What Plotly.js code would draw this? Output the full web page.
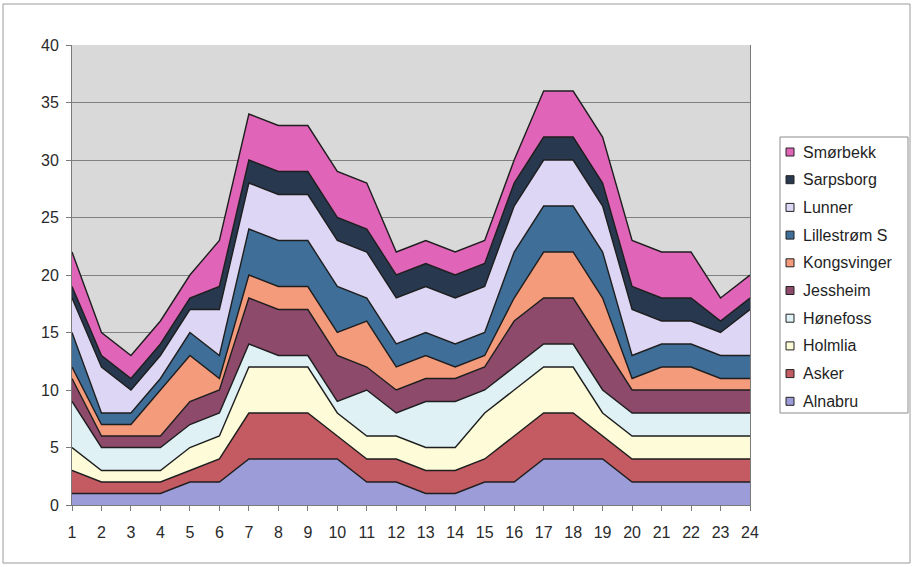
<!DOCTYPE html>
<html>
<head>
<meta charset="utf-8">
<script src="https://cdn.plot.ly/plotly-3.0.1.min.js"></script>
<style>
  html, body { margin: 0; padding: 0; background: #ffffff; }
  #chart { width: 913px; height: 567px; }
</style>
</head>
<body>
<div id="chart"></div>
<script>
// Hour of day
const hours = [1,2,3,4,5,6,7,8,9,10,11,12,13,14,15,16,17,18,19,20,21,22,23,24];

// Values per station (stacked bottom to top)
const alnabru     = [1,1,1,1,2,2,4,4,4,4,2,2,1,1,2,2,4,4,4,2,2,2,2,2];
const asker       = [2,1,1,1,1,2,4,4,4,2,2,2,2,2,2,4,4,4,2,2,2,2,2,2];
const holmlia     = [2,1,1,1,2,2,4,4,4,2,2,2,2,2,4,4,4,4,2,2,2,2,2,2];
const honefoss    = [4,2,2,2,2,2,2,1,1,1,4,2,4,4,2,2,2,2,2,2,2,2,2,2];
const jessheim    = [2,1,1,1,2,2,4,4,4,4,2,2,2,2,2,4,4,4,4,2,2,2,2,2];
const kongsvinger = [1,1,1,4,4,1,2,2,2,2,4,2,2,1,1,2,4,4,4,1,2,2,1,1];
const lillestrom  = [3,1,1,1,2,2,4,4,4,4,2,2,2,2,2,4,4,4,4,2,2,2,2,2];
const lunner      = [3,4,2,2,2,4,4,4,4,4,4,4,4,4,4,4,4,4,4,4,2,2,2,4];
const sarpsborg   = [1,1,1,1,1,2,2,2,2,2,2,2,2,2,2,2,2,2,2,2,2,2,1,1];
const smorbekk    = [3,2,2,2,2,4,4,4,4,4,4,2,2,2,2,2,4,4,4,4,4,4,2,2];

const stationNames = ["Alnabru","Asker","Holmlia","Hønefoss","Jessheim","Kongsvinger","Lillestrøm S","Lunner","Sarpsborg","Smørbekk"];
const stationValues = [alnabru, asker, holmlia, honefoss, jessheim, kongsvinger, lillestrom, lunner, sarpsborg, smorbekk];

const fills = ["#9c9cd9","#c45a62","#fdfbd8","#dff1f4","#8d4a6b","#f49b7c","#3f6f99","#ddd7f5","#28384f","#e064b8"];
const outline = "#1e1e1e";

const traces = stationNames.map((name, i) => ({
  type: "scatter",
  mode: "lines",
  name: name,
  x: hours,
  y: stationValues[i],
  stackgroup: "hours",
  fillcolor: fills[i],
  line: { color: outline, width: 1.4 },
  showlegend: false,
  hoverinfo: "skip"
}));

// Plot-area geometry in pixels, used to place the legend box
const L = 72, R = 750, T = 45, B = 505;
const px = p => (p - L) / (R - L);
const py = p => (B - p) / (B - T);

const shapes = [];
const annotations = [];

// Frame round the whole chart
shapes.push({ type: "rect", xref: "paper", yref: "paper",
  x0: px(3), x1: px(910), y0: py(4), y1: py(563),
  line: { color: "#9a9a9a", width: 1 }, fillcolor: "rgba(0,0,0,0)", layer: "below" });

// Legend box
shapes.push({ type: "rect", xref: "paper", yref: "paper",
  x0: px(780), x1: px(908), y0: py(137), y1: py(413),
  line: { color: "#8c8c8c", width: 1 }, fillcolor: "#ffffff" });

// Legend entries, top entry is the top layer of the stack
for (let k = 0; k < stationNames.length; k++) {
  const i = stationNames.length - 1 - k;
  const cy = 152 + k * 27.7;
  shapes.push({ type: "rect", xref: "paper", yref: "paper",
    x0: px(786), x1: px(794), y0: py(cy + 4), y1: py(cy - 4),
    line: { color: "#222222", width: 1 }, fillcolor: fills[i] });
  annotations.push({ xref: "paper", yref: "paper", x: px(801), y: py(cy),
    xanchor: "left", yanchor: "middle", showarrow: false, text: stationNames[i],
    font: { family: "Liberation Sans, Arial, sans-serif", size: 16, color: "#1f1f1f" } });
}

const layout = {
  width: 913, height: 567,
  margin: { l: L, r: 913 - R, t: T, b: 567 - B, pad: 0 },
  paper_bgcolor: "#ffffff",
  plot_bgcolor: "#d9d9d9",
  showlegend: false,
  font: { family: "Liberation Sans, Arial, sans-serif", size: 16, color: "#2a2a2a" },
  xaxis: {
    range: [1, 24], tickmode: "array", tickvals: hours, ticktext: hours.map(String),
    showgrid: false, zeroline: false,
    showline: true, linecolor: "#7a7a7a", linewidth: 1,
    ticks: "outside", ticklen: 5, tickcolor: "#7a7a7a", ticklabelstandoff: 8
  },
  yaxis: {
    range: [0, 40], dtick: 5, tick0: 0,
    showgrid: true, gridcolor: "#808080", gridwidth: 1, zeroline: false,
    showline: true, mirror: true, linecolor: "#7a7a7a", linewidth: 1,
    ticks: "outside", ticklen: 5, tickcolor: "#7a7a7a", ticklabelstandoff: 4
  },
  shapes: shapes,
  annotations: annotations
};

Plotly.newPlot("chart", traces, layout, { displayModeBar: false, staticPlot: true });
</script>
</body>
</html>
